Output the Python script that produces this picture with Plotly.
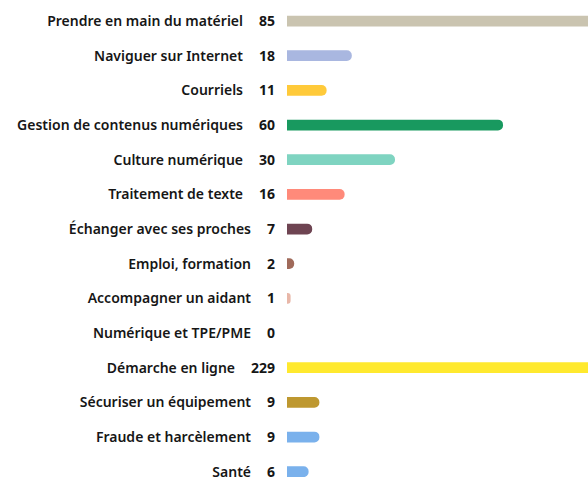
import plotly.graph_objects as go

categories = [
    "Prendre en main du matériel", "Naviguer sur Internet", "Courriels",
    "Gestion de contenus numériques", "Culture numérique", "Traitement de texte",
    "Échanger avec ses proches", "Emploi, formation", "Accompagner un aidant",
    "Numérique et TPE/PME", "Démarche en ligne", "Sécuriser un équipement",
    "Fraude et harcèlement", "Santé",
]
values = [85, 18, 11, 60, 30, 16, 7, 2, 1, 0, 229, 9, 9, 6]
colors = [
    "#CAC4B0", "#A9B7E0", "#FFCA3A", "#18995F", "#7FD4C1", "#FF8A7A",
    "#6E4452", "#A06A5A", "#E8B7A8", "#CCCCCC", "#FFE92E", "#BE9830",
    "#7AB1EC", "#7AB1EC",
]

gap = "\u00a0\u00a0\u00a0\u00a0\u200a"
tick_text = [f"{c}{gap}<b>{v}</b>" for c, v in zip(categories, values)]
idx = list(range(len(categories)))

fig = go.Figure(go.Bar(
    x=values, y=idx, orientation="h",
    marker=dict(color=colors, cornerradius=5, line=dict(width=0)),
    width=0.31, hoverinfo="skip",
))

fig.update_layout(
    width=588, height=477,
    margin=dict(l=287, r=0, t=0, b=0),
    paper_bgcolor="white", plot_bgcolor="white",
    showlegend=False,
    font=dict(family="Noto Sans", size=14, color="#161616"),
    xaxis=dict(range=[0, 83.6], visible=False, fixedrange=True),
    yaxis=dict(
        range=[13.153, -0.606], tickmode="array", tickvals=idx, ticktext=tick_text,
        showgrid=False, zeroline=False, showline=False, ticks="",
        ticklabelstandoff=11, automargin=False, ticklabeloverflow="allow",
        tickfont=dict(family="Noto Sans", size=14, color="#161616", weight=600),
        fixedrange=True,
    ),
)

fig.write_html("out.html", config={"displayModeBar": False},
               post_script="document.body.style.margin='0';")
